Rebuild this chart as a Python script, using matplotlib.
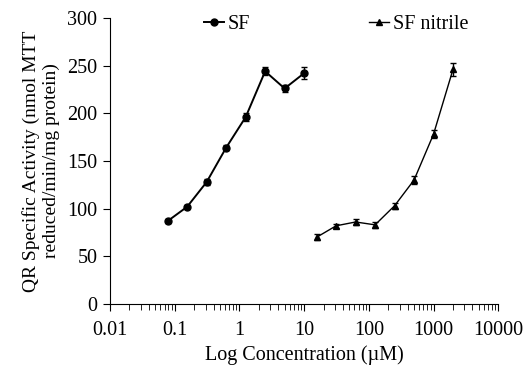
import numpy as np
import matplotlib
matplotlib.use('Agg')
import matplotlib.pyplot as plt

plt.rcParams['font.family'] = ['Liberation Serif', 'DejaVu Serif']

# SF data
sf_conc = [0.078, 0.156, 0.3125, 0.625, 1.25, 2.5, 5, 10]
sf_act = [87, 102, 128, 164, 196, 244, 226, 242]
sf_err = [2, 2, 3, 3, 4, 4, 4, 6]

# SF nitrile data
nit_conc = [15.625, 31.25, 62.5, 125, 250, 500, 1000, 2000]
nit_act = [70, 82, 86, 83, 103, 130, 178, 246]
nit_err = [3, 2, 3, 3, 3, 4, 4, 7]

fs = 14.5

fig = plt.figure(figsize=(5.25, 3.73), dpi=100)
ax = fig.add_axes([0.2095, 0.185, 0.7395, 0.767])

# error bars drawn separately so the legend shows plain line + marker
ax.errorbar(sf_conc, sf_act, yerr=sf_err, fmt='none', ecolor='black', capsize=2, elinewidth=1)
ax.errorbar(nit_conc, nit_act, yerr=nit_err, fmt='none', ecolor='black', capsize=2, elinewidth=1)
ax.plot(sf_conc, sf_act, color='black', marker='o', markersize=5, linewidth=1.4, label='SF')
ax.plot(nit_conc, nit_act, color='black', marker='^', markersize=5, linewidth=1.0, label='SF nitrile')

ax.set_xscale('log')
ax.set_xlim(0.01, 10000)
ax.set_ylim(0, 300)
ax.set_yticks([0, 50, 100, 150, 200, 250, 300])
ax.set_xticks([0.01, 0.1, 1, 10, 100, 1000, 10000])
ax.set_xticklabels(['0.01', '0.1', '1', '10', '100', '1000', '10000'])

ax.spines['top'].set_visible(False)
ax.spines['right'].set_visible(False)
ax.tick_params(axis='both', which='major', labelsize=fs, length=5, width=0.8)
ax.tick_params(axis='x', which='minor', length=4, width=0.6)
ax.tick_params(axis='x', pad=7)
ax.tick_params(axis='y', pad=4)

ax.set_xlabel('Log Concentration (\u00b5M)', fontsize=fs, labelpad=4)
ax.set_ylabel('QR Specific Activity (nmol MTT\nreduced/min/mg protein)', fontsize=14,
              linespacing=1.25, labelpad=5)

ax.legend(loc='upper left', bbox_to_anchor=(0.195, 1.075), ncol=2, frameon=False,
          fontsize=fs, handlelength=1.0, handletextpad=0.2, columnspacing=5.9)

fig.savefig('out.png', dpi=100)
